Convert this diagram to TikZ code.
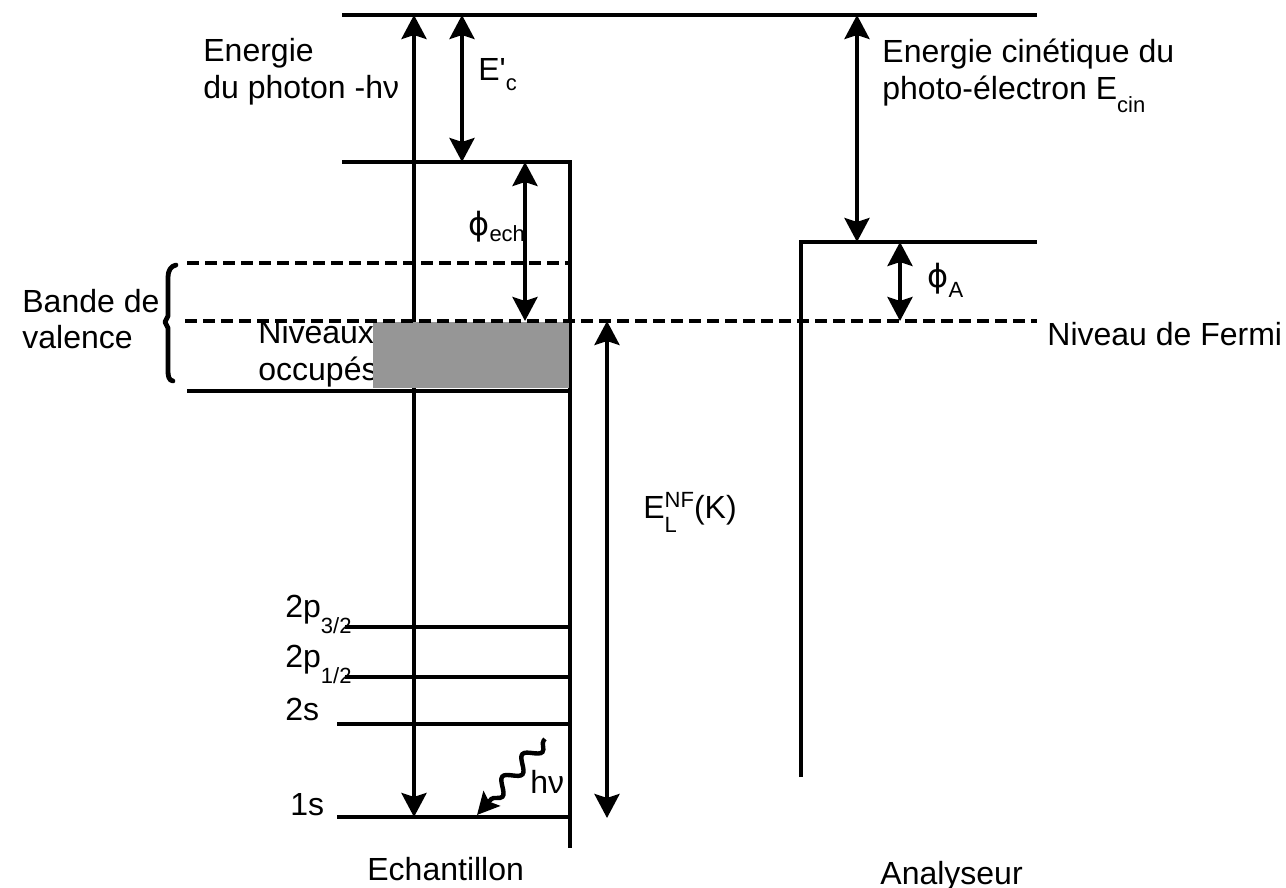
\documentclass[tikz,border=0pt]{standalone}
\usepackage{fontspec}
\setmainfont{Liberation Sans}
\newfontfamily\symfont{DejaVu Sans}
\usetikzlibrary{arrows.meta, decorations.pathmorphing}
\definecolor{occgray}{RGB}{150,150,150}
\tikzset{
    level/.style={line width=2pt},
    bandline/.style={line width=2pt, dash pattern=on 6pt off 3pt},
    dblarrow/.style={{Stealth[length=12pt,width=12.5pt,inset=2pt]}-{Stealth[length=12pt,width=12.5pt,inset=2pt]}, line width=2pt},
    photon/.style={-{Stealth[length=11pt,width=11pt,inset=2pt]}, line width=2.2pt, decorate,
        decoration={snake, amplitude=3.4pt, segment length=15pt, pre length=1pt, post length=8pt}},
    bracket/.style={line width=2.4pt, line join=round, line cap=round},
    lbl/.style={anchor=base west, inner sep=0pt, font=\fontsize{16}{18}\selectfont}
}
\newcommand{\lowtxt}[2][5pt]{\raisebox{-#1}{\fontsize{11}{11}\selectfont #2}}
\newcommand{\hightxt}[2][5.5pt]{\raisebox{#1}{\fontsize{11}{11}\selectfont #2}}
\newcommand{\phisym}{{\symfont ϕ}}

\begin{document}
\begin{tikzpicture}[x=0.5pt, y=-0.5pt]
    \useasboundingbox (0,0) rectangle (1286,888);

    % level ends
    \coordinate (vacL) at (342,15);   \coordinate (vacR) at (1037,15);
    \coordinate (echL) at (342,162);  \coordinate (echC) at (570,162);
    \coordinate (echB) at (570,848);
    \coordinate (bvT) at (187,263);   \coordinate (bvTR) at (570,263);
    \coordinate (nfL) at (185,321);   \coordinate (nfR) at (1037,321);
    \coordinate (bvB) at (187,391);   \coordinate (bvBR) at (570,391);
    \coordinate (anaC) at (801,242);  \coordinate (anaR) at (1037,242);
    \coordinate (anaB) at (801,777);
    \coordinate (p32) at (345,627);   \coordinate (p32R) at (570,627);
    \coordinate (p12) at (345,677);   \coordinate (p12R) at (570,677);
    \coordinate (s2) at (337,724);    \coordinate (s2R) at (570,724);
    \coordinate (s1) at (337,817);    \coordinate (s1R) at (570,817);

    \draw[level] (vacL) -- (vacR);
    \draw[level] (echL) -- (echC) -- (echB);
    \draw[bandline] (bvT) -- (bvTR);
    \draw[level] (bvB) -- (bvBR);
    \draw[level] (anaB) -- (anaC) -- (anaR);
    \draw[level] (p32) -- (p32R);
    \draw[level] (p12) -- (p12R);
    \draw[level] (s2) -- (s2R);
    \draw[level] (s1) -- (s1R);

    % arrows
    \coordinate (hvT) at (414,15);  \coordinate (hvB) at (414,817);
    \coordinate (ecT) at (462,15);  \coordinate (ecB) at (462,162);
    \coordinate (phT) at (525,162); \coordinate (phB) at (525,321);
    \coordinate (elT) at (607,321); \coordinate (elB) at (607,818);
    \coordinate (kiT) at (857,15);  \coordinate (kiB) at (857,242);
    \coordinate (paT) at (900,242); \coordinate (paB) at (900,321);
    \draw[dblarrow] (hvT) -- (hvB);
    \draw[dblarrow] (ecT) -- (ecB);
    \draw[dblarrow] (phT) -- (phB);
    \draw[dblarrow] (elT) -- (elB);
    \draw[dblarrow] (kiT) -- (kiB);
    \draw[dblarrow] (paT) -- (paB);

    \coordinate (wvS) at (545,739); \coordinate (wvE) at (477,815);
    \draw[photon] (wvS) -- (wvE);

    % labels
    \node[lbl] (photA) at (203,62) {Energie};
    \node[lbl] (photB) at (203,99) {du photon -hν};
    \node[lbl] (ecl) at (478,81) {E\textquotesingle\lowtxt{c}};
    \node[lbl] (phl) at (468,235) {\phisym\lowtxt[3pt]{ech}};
    \node[lbl] (bandA) at (22,312) {Bande de};
    \node[lbl] (bandB) at (22,348) {valence};
    \node[lbl] (nivA) at (258,343) {Niveaux};
    \node[lbl] (nivB) at (258,380) {occupés};
    \node[lbl] (fermi) at (1047,345) {Niveau de Fermi};
    \node[lbl] (kinA) at (882,63) {Energie cinétique du};
    \node[lbl] (kinB) at (882,100) {photo-électron E\lowtxt[6pt]{cin}};
    \node[lbl] (pal) at (927,287) {\phisym\lowtxt[5pt]{A}};
    \node[lbl] (ell) at (643,518) {E\rlap{\lowtxt[7pt]{L}}\hightxt{NF}(K)};
    \node[lbl] (lp32) at (285,617) {2p\lowtxt[8pt]{3/2}};
    \node[lbl] (lp12) at (285,667) {2p\lowtxt[8pt]{1/2}};
    \node[lbl] (ls2) at (285,720) {2s};
    \node[lbl] (ls1) at (290,815) {1s};
    \node[lbl] (hvl) at (530,793) {hν};
    \node[lbl] (ech) at (367,880) {Echantillon};
    \node[lbl] (ana) at (880,884) {Analyseur};

    % occupied band
    \fill[occgray] (373,322) rectangle (569,388);
    \draw[bandline] (nfL) -- (nfR);

    \draw[bracket] (176,265) to[out=190,in=90] (168,277) -- (168,316) -- (165,322)
        -- (168,328) -- (168,371) to[out=-90,in=175] (173,381);
\end{tikzpicture}
\end{document}
